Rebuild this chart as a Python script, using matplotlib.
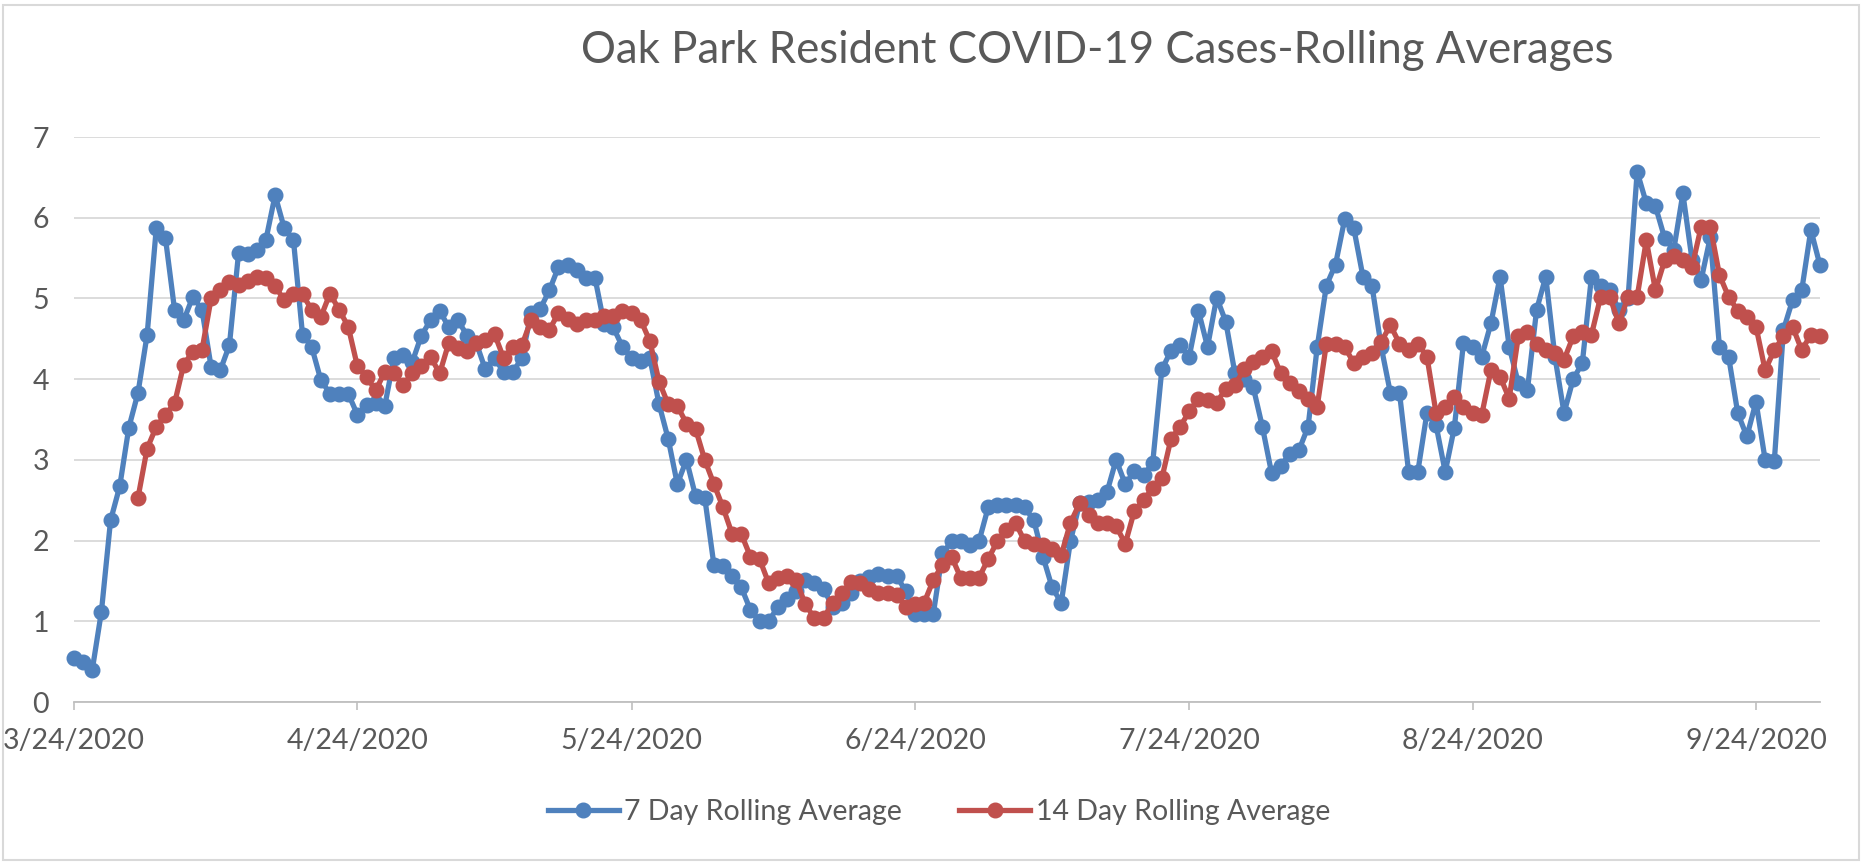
import pandas as pd
import matplotlib
matplotlib.use("Agg")
import matplotlib.pyplot as plt
from matplotlib.patches import Rectangle

# Texto y datos del gráfico
title = "Oak Park Resident COVID-19 Cases-Rolling Averages"
series_names = ["7 Day Rolling Average", "14 Day Rolling Average"]
start_date = "2020-03-24"
tick_months = [3, 4, 5, 6, 7, 8, 9]

# Promedio de 7 días (un valor por día desde 3/24/2020)
avg_7day = [
    0.55, 0.50, 0.40, 1.12, 2.25, 2.67, 3.40, 3.83, 4.55, 5.87,
    5.75, 4.86, 4.73, 5.02, 4.86, 4.15, 4.11, 4.42, 5.56, 5.55,
    5.60, 5.73, 6.28, 5.87, 5.73, 4.55, 4.40, 3.99, 3.82, 3.82,
    3.82, 3.56, 3.68, 3.70, 3.67, 4.26, 4.30, 4.21, 4.54, 4.73,
    4.85, 4.64, 4.73, 4.54, 4.45, 4.12, 4.26, 4.09, 4.09, 4.26,
    4.82, 4.87, 5.10, 5.39, 5.42, 5.35, 5.25, 5.25, 4.68, 4.64,
    4.40, 4.26, 4.23, 4.26, 3.69, 3.26, 2.70, 3.00, 2.55, 2.53,
    1.70, 1.68, 1.56, 1.42, 1.14, 1.00, 1.00, 1.18, 1.28, 1.37,
    1.51, 1.48, 1.40, 1.18, 1.23, 1.35, 1.50, 1.55, 1.58, 1.56,
    1.56, 1.37, 1.09, 1.09, 1.09, 1.84, 1.99, 2.00, 1.94, 1.99,
    2.41, 2.44, 2.44, 2.44, 2.41, 2.25, 1.80, 1.42, 1.23, 1.99,
    2.46, 2.48, 2.50, 2.60, 3.00, 2.70, 2.86, 2.81, 2.96, 4.12,
    4.35, 4.42, 4.28, 4.85, 4.40, 5.01, 4.71, 4.07, 4.00, 3.90,
    3.41, 2.84, 2.93, 3.07, 3.12, 3.41, 4.40, 5.16, 5.42, 5.98,
    5.87, 5.27, 5.15, 4.40, 3.83, 3.83, 2.85, 2.85, 3.58, 3.43,
    2.85, 3.40, 4.45, 4.40, 4.28, 4.69, 5.27, 4.40, 3.95, 3.87,
    4.86, 5.27, 4.28, 3.58, 4.00, 4.20, 5.27, 5.15, 5.10, 4.86,
    5.00, 6.57, 6.18, 6.14, 5.75, 5.60, 6.30, 5.48, 5.23, 5.76,
    4.40, 4.28, 3.58, 3.29, 3.72, 3.00, 2.98, 4.61, 4.98, 5.10,
    5.85, 5.41,
]

# Promedio de 14 días (empieza 7 días después)
avg_14day = [
    2.53, 3.14, 3.41,
    3.56, 3.70, 4.18, 4.34, 4.36, 5.00, 5.10, 5.20, 5.17, 5.22,
    5.27, 5.25, 5.15, 4.98, 5.05, 5.05, 4.86, 4.77, 5.06, 4.86,
    4.65, 4.16, 4.03, 3.86, 4.09, 4.07, 3.93, 4.07, 4.16, 4.28,
    4.07, 4.45, 4.38, 4.35, 4.45, 4.49, 4.56, 4.26, 4.40, 4.42,
    4.73, 4.64, 4.61, 4.82, 4.75, 4.68, 4.73, 4.73, 4.78, 4.78,
    4.85, 4.82, 4.73, 4.47, 3.97, 3.69, 3.67, 3.45, 3.38, 3.00,
    2.70, 2.41, 2.08, 2.08, 1.80, 1.77, 1.47, 1.54, 1.56, 1.51,
    1.21, 1.04, 1.04, 1.23, 1.35, 1.49, 1.47, 1.40, 1.35, 1.35,
    1.32, 1.18, 1.21, 1.23, 1.51, 1.70, 1.80, 1.54, 1.54, 1.54,
    1.77, 1.99, 2.13, 2.22, 1.99, 1.96, 1.94, 1.89, 1.82, 2.22,
    2.46, 2.32, 2.22, 2.22, 2.18, 1.96, 2.37, 2.50, 2.65, 2.77,
    3.26, 3.41, 3.60, 3.76, 3.74, 3.71, 3.88, 3.93, 4.12, 4.21,
    4.28, 4.35, 4.07, 3.95, 3.85, 3.75, 3.66, 4.44, 4.44, 4.40,
    4.20, 4.28, 4.32, 4.46, 4.67, 4.44, 4.36, 4.44, 4.28, 3.58,
    3.66, 3.78, 3.66, 3.58, 3.56, 4.11, 4.03, 3.76, 4.53, 4.59,
    4.44, 4.36, 4.32, 4.24, 4.53, 4.59, 4.55, 5.02, 5.02, 4.69,
    5.02, 5.02, 5.72, 5.10, 5.47, 5.52, 5.48, 5.39, 5.89, 5.89,
    5.29, 5.02, 4.85, 4.77, 4.65, 4.11, 4.36, 4.53, 4.65, 4.36,
    4.55, 4.53,
]

dates = pd.date_range(start_date, periods=len(avg_7day), freq="D")
dates_14 = dates[len(dates) - len(avg_14day):]
tick_dates = [pd.Timestamp(2020, m, 24) for m in tick_months]

plt.rcParams['font.family'] = ['Lato', 'DejaVu Sans']
gray_text = '#595959'

W, H = 1865, 863
fig = plt.figure(figsize=(W / 100, H / 100), dpi=100)
ax = fig.add_axes([74 / W, 1 - 702 / H, (1820 - 74) / W, (702 - 137) / H])

ax.plot(dates, avg_7day, color='#4F81BD', lw=3.8, marker='o', ms=10.5,
        clip_on=False, zorder=3, label=series_names[0])
ax.plot(dates_14, avg_14day, color='#C0504D', lw=3.8, marker='o', ms=10.5,
        clip_on=False, zorder=4, label=series_names[1])

ax.set_ylim(0, 7)
ax.set_yticks(range(8))
ax.set_xlim(dates[0], dates[-1])
ax.set_xticks(tick_dates)
ax.set_xticklabels([f"{d.month}/{d.day}/{d.year}" for d in tick_dates])

ax.grid(axis='y', color='#d9d9d9', lw=1.3)
ax.set_axisbelow(True)
for s in ['top', 'right', 'left']:
    ax.spines[s].set_visible(False)
ax.spines['bottom'].set_color('#bfbfbf')
ax.spines['bottom'].set_linewidth(1.3)
ax.tick_params(axis='x', length=6, width=1.2, color='#bfbfbf', pad=13,
               labelsize=20.5, labelcolor=gray_text)
ax.tick_params(axis='y', length=0, pad=18, labelsize=20.5, labelcolor=gray_text)

# Título
fig.text(1097 / W, 0.942, title, ha='center', va='center', fontsize=31.5,
         color=gray_text)

# Leyenda
fig.legend(loc='center', bbox_to_anchor=(0.5035, 0.059), ncol=2, frameon=False,
           fontsize=20.5, handlelength=2.5, columnspacing=2.0, labelcolor=gray_text,
           handletextpad=0.2)

# Borde del área del gráfico
fig.patches.append(Rectangle((3 / W, 3 / H), (W - 9) / W, (H - 8) / H,
                             transform=fig.transFigure, fill=False,
                             edgecolor='#d9d9d9', lw=1.5))

fig.savefig('out.png', dpi=100)
